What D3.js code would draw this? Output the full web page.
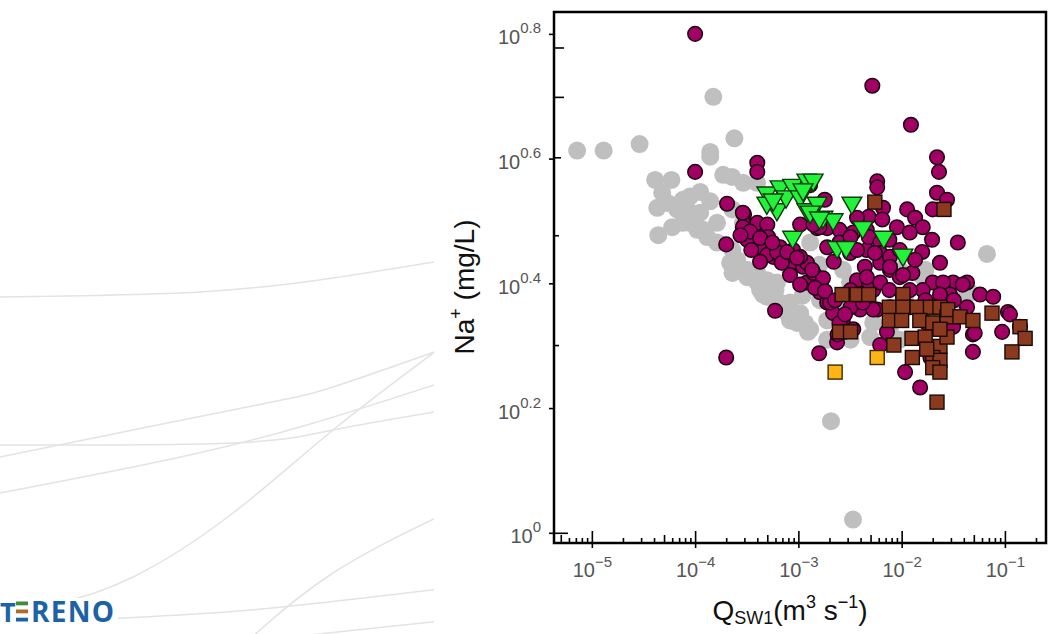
<!DOCTYPE html>
<html>
<head>
<meta charset="utf-8">
<script src="https://cdn.jsdelivr.net/npm/d3@7"></script>
<style>
  html, body { margin: 0; padding: 0; background: #fff; }
  svg { display: block; }
</style>
</head>
<body>
<svg id="chart" width="1050" height="634"></svg>
<script>
// ---- Observations: [discharge Q (m3/s), Na+ (mg/L)] ----
const seriesGrey = [
  [7.2e-6,4.10],[1.3e-5,4.10],[2.9e-5,4.20],[1.5e-4,5.00],[2.4e-4,4.29],[1.4e-4,4.08],
  [4.1e-5,3.68],[5.9e-5,3.68],[4.8e-5,3.51],[4.3e-5,3.32],[5.4e-5,3.38],[4.4e-5,3.00],
  [6.7e-5,3.30],[6.0e-5,3.09],[7.6e-5,3.42],[8.4e-5,3.30],[1.12e-4,3.52],[8.9e-5,3.46],
  [1.12e-4,3.26],[7.6e-5,3.14],[1.05e-4,3.06],[1.31e-4,2.98],[1.63e-4,3.14],[1.4e-4,3.40],
  [1.4e-4,4.01],[1.87e-4,3.75],[2.28e-4,3.72],[2.92e-4,3.64],[3.98e-4,3.64],[2.3e-4,3.30],
  [2.9e-4,3.14],[2.3e-4,2.84],[2.18e-4,2.71],[2.9e-4,2.64],[4.0e-4,2.61],[4.0e-4,2.52],
  [5.0e-4,2.54],[7.4e-5,3.38],[8.9e-5,3.14],[1.2e-4,3.06],[1.63e-4,2.92],[2.55e-4,2.74],
  [3.18e-4,2.64],[4.26e-4,2.45],[5.0e-4,2.39],[6.65e-4,2.34],[7.8e-4,2.25],[9.7e-4,2.17],
  [1.3e-3,2.12],[1.9e-3,2.19],[2.71e-3,2.28],[2.3e-4,2.61],[3.2e-4,2.57],[4.55e-4,2.41],
  [6.2e-4,2.52],[8.3e-4,2.34],[1.04e-3,2.25],[1.16e-3,2.17],[1.24e-3,2.10],[2.07e-3,1.51],
  [3.38e-3,1.05],[6.7e-2,2.80],[5.3e-3,2.17],[4.95e-3,2.06],[3.17e-3,2.52],[1.61e-2,2.57],
  [4.6e-2,2.43],[1.7e-2,2.64],[1.3e-3,2.92],[2.7e-3,2.64],[1.62e-3,2.36],[3.96e-3,2.36],
  [7.7e-3,2.12],[1.08e-2,2.36],[2.63e-2,2.36],[9.6e-3,2.64],[6.7e-4,2.79],[8.3e-4,2.64],
  [1.6e-3,2.69],[1.9e-3,2.04],[8.3e-4,2.19],[3.2e-3,2.04],[9.6e-3,2.04],[2.0e-2,2.19],
  [3.7e-2,2.36],[6.0e-4,2.45],[1.1e-3,2.40]
];

const seriesPurple = [
  [1.0e-4,6.31],[5.2e-3,5.21],[1.23e-2,4.51],[2.2e-2,4.00],[2.3e-2,3.79],[2.2e-2,3.51],
  [2.75e-2,3.42],[2.0e-2,3.30],[3.5e-2,2.92],[5.8e-3,3.66],[5.8e-3,3.58],[1.0e-4,3.79],
  [4.0e-4,3.92],[4.0e-4,3.79],[2.04e-4,3.37],[2.98e-4,3.24],[2.0e-4,2.90],[3.0e-4,3.12],
  [2.0e-4,1.91],[5.95e-4,2.27],[1.59e-3,1.94],[1.08e-2,1.81],[1.51e-2,1.71],[6.2e-3,2.00],
  [2.37e-3,2.02],[4.9e-2,1.95],[9.4e-2,2.10],[1.07e-1,2.26],[1.12e-1,2.24],[1.40e-1,2.14],
  [4.9e-2,2.08],
  [2.9e-4,3.26],[2.9e-4,3.09],[4.0e-4,3.14],[5.0e-4,3.12],[4.0e-4,2.95],[5.1e-4,2.98],
  [6.65e-4,2.87],[4.55e-4,2.84],[5.7e-4,2.77],[7.1e-4,2.77],[8.9e-4,2.71],[1.11e-3,2.67],
  [3.2e-4,2.95],[5.0e-4,2.79],[6.2e-4,2.82],[6.9e-4,2.71],[1.21e-3,2.52],[1.52e-3,2.57],
  [1.62e-3,2.43],[1.9e-3,2.34],[2.17e-3,2.25],[2.7e-3,2.17],[2.4e-3,2.08],[3.4e-3,2.12],
  [2.03e-3,2.34],[2.5e-3,2.17],[8.9e-4,2.84],[1.04e-3,3.12],[1.52e-3,3.08],[1.9e-3,3.08],
  [2.5e-3,3.06],[3.4e-3,3.03],[4.6e-3,3.06],[4.6e-3,2.84],[3.17e-3,2.81],[1.9e-3,2.87],
  [2.5e-3,2.92],[3.7e-3,2.52],[5.3e-3,2.45],[4.6e-3,2.36],[3.96e-3,2.28],[5.8e-3,2.28],
  [1.13e-2,3.30],[1.35e-2,3.20],[1.6e-2,3.09],[6.6e-3,3.32],[4.8e-3,3.21],[3.7e-3,3.20],
  [6.5e-3,3.18],[9.0e-3,3.09],[1.2e-2,3.03],[1.97e-2,2.95],[1.58e-2,2.82],[2.35e-2,2.71],
  [3.2e-3,2.98],[4.8e-3,2.98],[6.2e-3,2.92],[6.2e-3,2.81],[6.2e-3,2.71],[4.4e-3,2.67],
  [2.2e-3,2.72],[1.6e-3,3.09],[1.4e-3,3.12],[7.7e-3,2.77],[7.7e-3,2.64],[1.27e-2,2.61],
  [9.6e-3,2.57],[3.7e-3,2.54],[4.8e-3,2.52],[6.2e-3,2.52],[2.0e-2,2.52],[3.15e-2,2.52],
  [4.3e-2,2.52],[1.21e-3,2.71],[1.4e-3,2.61],[1.73e-3,2.56],[1.04e-3,2.77],[4.6e-3,2.57],
  [5.3e-3,2.28],[7.2e-3,2.10],[1.03e-2,2.59],[2.52e-2,2.52],[2.94e-2,2.41],[3.9e-2,2.50],
  [5.75e-2,2.41],[7.7e-2,2.39],[5.1e-2,2.09],[1.9e-2,1.91],[1.75e-2,2.17],[1.2e-2,2.30],
  [4.3e-2,2.30],[3.15e-2,2.14],[7.7e-3,2.30],[3.2e-3,2.30],[4.2e-3,2.34],[1.03e-2,2.39],
  [1.6e-2,2.45],[7.7e-3,2.67],[5.5e-3,2.81],[3.7e-3,2.84],[1.3e-3,3.61],[1.8e-3,3.42],
  [3.41e-4,3.04],[4.26e-4,2.97],[5.6e-4,2.92],[7.8e-4,2.82],[9.7e-4,2.76],[1.36e-3,2.64],
  [1.45e-3,2.47],[1.81e-3,2.44],[2.27e-3,2.36],[2.83e-3,2.24],[8.3e-4,2.59],[4.26e-4,2.72],
  [3.5e-4,2.84],[2.75e-4,3.00],[1.04e-3,2.50],[3.2e-3,2.45],[3.96e-3,2.41],[7.6e-3,2.45],
  [1.2e-2,2.45],[1.7e-2,2.36],[2.35e-2,2.41],[3.2e-2,2.36],[7.6e-3,2.95],[9.6e-3,2.84],
  [1.35e-2,2.74]
];

const seriesGreen = [
  [4.95e-4,3.51],[6.65e-4,3.59],[8.8e-4,3.61],[1.21e-3,3.68],[6.2e-4,3.30],[8.8e-4,2.98],
  [7.6e-4,3.46],[4.95e-4,3.38],[1.04e-3,3.46],[1.39e-3,3.68],[1.21e-3,3.30],[1.52e-3,3.38],
  [1.73e-3,3.21],[2.17e-3,3.18],[3.3e-3,3.38],[4.2e-3,3.09],[2.37e-3,2.87],[2.9e-3,2.87],
  [1.11e-3,3.55],[1.3e-3,3.27],[1.6e-3,3.20],[6.7e-3,2.98],[1.03e-2,2.79],[5.7e-4,3.42]
];

const seriesBrown = [
  [5.5e-3,3.39],[2.57e-2,3.30],[2.65e-3,2.41],[3.7e-3,2.41],[4.8e-3,2.41],[1.03e-2,2.41],
  [7.6e-3,2.30],[1.03e-2,2.30],[1.41e-2,2.30],[1.9e-2,2.30],[2.35e-2,2.30],[7.6e-3,2.19],
  [1.0e-2,2.19],[1.5e-2,2.19],[2.0e-2,2.17],[2.75e-2,2.22],[2.8e-2,2.28],[3.67e-2,2.22],
  [4.9e-2,2.19],[7.5e-2,2.25],[1.40e-1,2.14],[1.57e-1,2.05],[1.17e-1,1.95],[2.5e-3,2.10],
  [3.2e-3,2.10],[8.4e-3,2.00],[1.26e-2,2.05],[1.69e-2,2.06],[2.35e-2,1.99],[1.27e-2,1.91],
  [2.0e-2,1.91],[2.35e-2,1.89],[2.0e-2,1.84],[2.35e-2,1.81],[2.2e-2,1.62],[1.75e-2,1.97],
  [2.75e-2,2.06],[2.35e-2,2.12]
];

const seriesOrange = [
  [2.27e-3,1.81],[5.8e-3,1.91]
];

// ---- Axis ticks ----
const xTickExponents = [-5, -4, -3, -2, -1];
const yTickExponents = [0, 0.2, 0.4, 0.6, 0.8];
const yMinorTicks = [1, 2, 3, 4, 5, 6];

// ---- Layout ----
const svg = d3.select('#chart');
const plot = { left: 554, right: 1046, top: 12, bottom: 543 };

const x = d3.scaleLog().domain([4.3e-6, 0.25]).range([plot.left, plot.right]);
const y = d3.scaleLog().domain([0.963, 6.84]).range([plot.bottom, plot.top]);

// ---- Decorative slide background: faint sweeping lines and logo ----
const decor = svg.append('g');
decor.append('clipPath').attr('id', 'decorClip')
  .append('rect').attr('x', 0).attr('y', 0).attr('width', 434).attr('height', 634);
const swoosh = [
  [[0,297],[200,292],[333,278],[440,261]],
  [[0,457],[133,430],[267,403],[333,387],[440,350]],
  [[0,493],[167,460],[300,427],[440,383]],
  [[0,445],[233,443],[333,430],[440,411]],
  [[440,348],[333,430],[233,513],[133,577],[60,603],[0,620]],
  [[440,516],[333,573],[260,630],[250,640]],
  [[100,619],[250,610],[440,589]],
  [[300,636],[440,621]]
];
const swooshLine = d3.line().curve(d3.curveNatural);
decor.append('g').attr('clip-path', 'url(#decorClip)')
  .selectAll('path').data(swoosh).join('path')
  .attr('d', swooshLine)
  .attr('fill', 'none')
  .attr('stroke', '#e3e3e3')
  .attr('stroke-width', 1.5);

const logo = svg.append('g');
const logoFont = '"Open Sans", sans-serif';
logo.append('rect').attr('x', 0).attr('y', 598).attr('width', 118).attr('height', 30).attr('fill', '#fff');
logo.append('text').attr('x', 0).attr('y', 621.5)
  .attr('font-family', logoFont).attr('font-weight', 700)
  .attr('font-size', 27).attr('fill', '#1b63a6').text('T');
const eBars = [['#3f8a3c', 601.5], ['#b06b2c', 609.5], ['#1b63a6', 617.7]];
logo.selectAll('rect.bar').data(eBars).join('rect').attr('class', 'bar')
  .attr('x', 16).attr('width', 12).attr('y', d => d[1]).attr('height', 3.8)
  .attr('fill', d => d[0]);
logo.append('text').attr('x', 31).attr('y', 621.5)
  .attr('font-family', logoFont).attr('font-weight', 700)
  .attr('font-size', 28).attr('fill', '#1b63a6')
  .attr('textLength', 83).attr('lengthAdjust', 'spacing')
  .text('RENO');

// ---- Data marks ----
const marks = svg.append('g');

marks.append('g').selectAll('circle').data(seriesGrey).join('circle')
  .attr('cx', d => x(d[0])).attr('cy', d => y(d[1])).attr('r', 9)
  .attr('fill', '#bfbfbf');

marks.append('g').selectAll('circle').data(seriesPurple).join('circle')
  .attr('cx', d => x(d[0])).attr('cy', d => y(d[1])).attr('r', 7.3)
  .attr('fill', '#a30066').attr('stroke', '#1e0012').attr('stroke-width', 1.5);

const tri = d3.symbol(d3.symbolTriangle, 170);
marks.append('g').selectAll('path').data(seriesGreen).join('path')
  .attr('d', tri)
  .attr('transform', d => `translate(${x(d[0])},${y(d[1])}) rotate(180)`)
  .attr('fill', '#22f23a').attr('stroke', '#0b3a0b').attr('stroke-width', 1.4);

const sq = 14;
marks.append('g').selectAll('rect').data(seriesBrown).join('rect')
  .attr('x', d => x(d[0]) - sq / 2).attr('y', d => y(d[1]) - sq / 2)
  .attr('width', sq).attr('height', sq)
  .attr('fill', '#8b3a20').attr('stroke', '#1a0a05').attr('stroke-width', 1.4);

marks.append('g').selectAll('rect').data(seriesOrange).join('rect')
  .attr('x', d => x(d[0]) - sq / 2).attr('y', d => y(d[1]) - sq / 2)
  .attr('width', sq).attr('height', sq)
  .attr('fill', '#fdb516').attr('stroke', '#3a2a00').attr('stroke-width', 1.4);

// ---- Axes ----
const labelColor = '#555';
const labelFont = '"Liberation Sans", Arial, sans-serif';

// y: labelled ticks at 10^0, 10^0.2, ... (outward)
const yMajor = svg.append('g').attr('transform', `translate(${plot.left},0)`)
  .call(d3.axisLeft(y).tickValues(yTickExponents.map(e => Math.pow(10, e)))
    .tickSize(5).tickFormat(''));
yMajor.select('.domain').remove();
yMajor.selectAll('.tick line').attr('stroke', '#000').attr('stroke-width', 1.6);
yMajor.selectAll('.tick').each(function (v, i) {
  const t = d3.select(this).append('text')
    .attr('x', -13).attr('y', 10).attr('text-anchor', 'end')
    .attr('font-family', labelFont).attr('font-size', 20).attr('fill', labelColor);
  t.append('tspan').text('10');
  t.append('tspan').attr('dy', -11).attr('font-size', 15).text(String(yTickExponents[i]));
});

// y: integer ticks (inward)
const yLen = { 1: 14, 2: 5, 3: 5, 4: 7, 5: 10, 6: 10 };
const yMinor = svg.append('g').attr('transform', `translate(${plot.left},0)`)
  .call(d3.axisRight(y).tickValues(yMinorTicks).tickFormat(''));
yMinor.select('.domain').remove();
yMinor.selectAll('.tick line').attr('x2', d => yLen[d])
  .attr('stroke', '#000').attr('stroke-width', 1.6);

// x: decade ticks with labels, and minor ticks at 2..9
const xMinorTicks = [];
for (let k = -6; k <= -1; k++) {
  for (let m = 1; m <= 9; m++) {
    const v = m * Math.pow(10, k);
    if (v >= x.domain()[0] && v <= x.domain()[1]) xMinorTicks.push({ v, m });
  }
}
const xMinor = svg.append('g').attr('transform', `translate(0,${plot.bottom})`)
  .call(d3.axisTop(x).tickValues(xMinorTicks.map(d => d.v)).tickFormat(''));
xMinor.select('.domain').remove();
xMinor.selectAll('.tick line')
  .attr('y1', (d, i) => xMinorTicks[i].m === 1 ? 5 : 0)
  .attr('y2', (d, i) => xMinorTicks[i].m === 1 ? -12 : (xMinorTicks[i].m === 5 ? -8 : -5))
  .attr('stroke', '#000').attr('stroke-width', 1.6);

const xLabels = svg.append('g').attr('transform', `translate(0,${plot.bottom})`)
  .call(d3.axisBottom(x).tickValues(xTickExponents.map(e => Math.pow(10, e)))
    .tickSize(0).tickFormat(''));
xLabels.select('.domain').remove();
xLabels.selectAll('.tick').each(function (v, i) {
  const t = d3.select(this).append('text')
    .attr('x', 0).attr('y', 34).attr('text-anchor', 'middle')
    .attr('font-family', labelFont).attr('font-size', 20).attr('fill', labelColor);
  t.append('tspan').text('10');
  t.append('tspan').attr('dy', -10).attr('font-size', 15)
    .text('\u2212' + Math.abs(xTickExponents[i]));
});

// plot frame
svg.append('rect')
  .attr('x', plot.left).attr('y', plot.top)
  .attr('width', plot.right - plot.left).attr('height', plot.bottom - plot.top)
  .attr('fill', 'none').attr('stroke', '#000').attr('stroke-width', 2.5);

// ---- Axis titles ----
const xt = svg.append('text')
  .attr('x', 790).attr('y', 620).attr('text-anchor', 'middle')
  .attr('font-family', labelFont).attr('font-size', 28).attr('fill', '#111');
xt.append('tspan').text('Q');
xt.append('tspan').attr('font-size', 18).attr('dy', 4).text('SW1');
xt.append('tspan').attr('dy', -4).text('(m');
xt.append('tspan').attr('font-size', 18).attr('dy', -12).text('3');
xt.append('tspan').attr('dy', 12).text(' s');
xt.append('tspan').attr('font-size', 18).attr('dy', -12).text('\u22121');
xt.append('tspan').attr('dy', 12).text(')');

const yt = svg.append('text')
  .attr('transform', 'translate(474,287) rotate(-90)')
  .attr('text-anchor', 'middle')
  .attr('font-family', labelFont).attr('font-size', 28).attr('fill', '#111');
yt.append('tspan').text('Na');
yt.append('tspan').attr('font-size', 18).attr('dy', -12).text('+');
yt.append('tspan').attr('dy', 12).text(' (mg/L)');
</script>
</body>
</html>
